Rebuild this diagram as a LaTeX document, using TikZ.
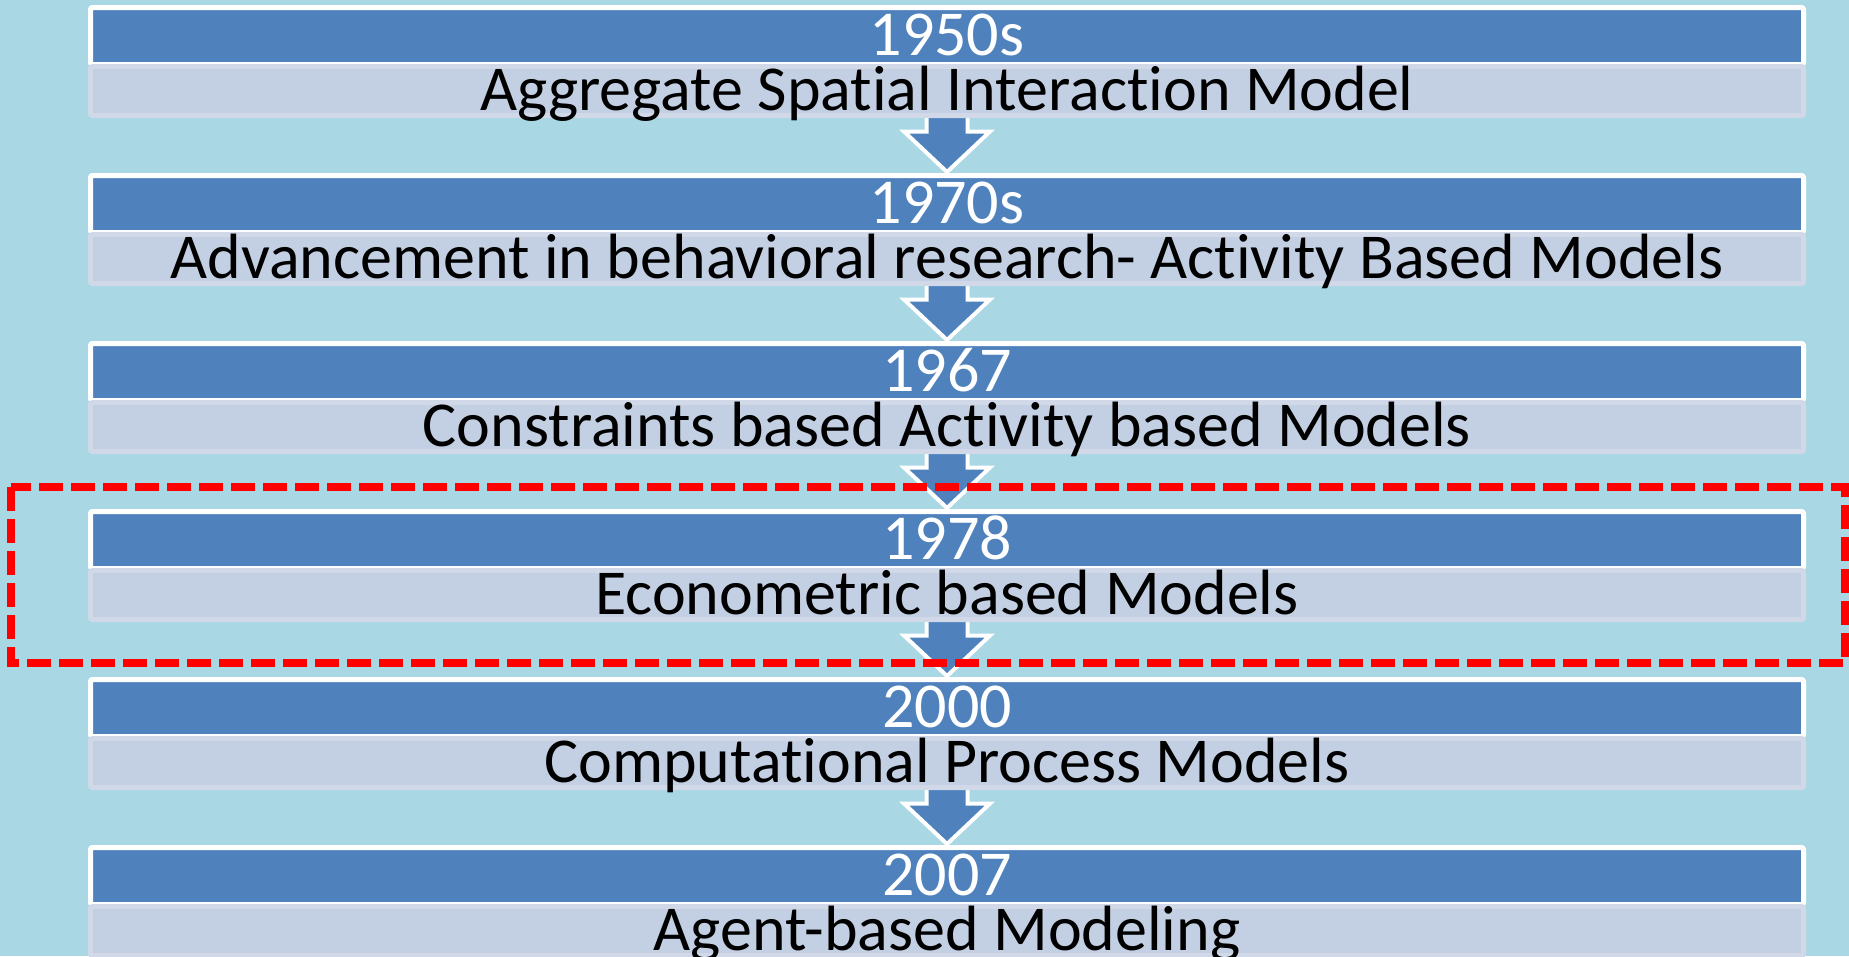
\documentclass[tikz,border=0pt]{standalone}
\usepackage{fontspec}
\setmainfont[Ligatures={NoCommon,NoContextual},RawFeature={-liga;-clig;-calt;-dlig}]{Carlito}
\usetikzlibrary{calc}
\pgfdeclarelayer{back}
\pgfsetlayers{back,main}
\definecolor{pagebg}{HTML}{A9D7E3}
\definecolor{hdr}{HTML}{4F81BD}
\definecolor{bodyfill}{HTML}{C3CFE2}
\definecolor{bodyedge}{HTML}{D1D9E9}
\tikzset{
  hdrbox/.style={draw=white, line width=5pt, fill=hdr, minimum width=1713pt,
    minimum height=57pt, inner sep=0pt, rounded corners=2pt},
  bodybox/.style={draw=bodyedge, line width=5pt, fill=bodyfill, minimum width=1713pt,
    minimum height=49pt, inner sep=0pt, rounded corners=2pt},
  yeartext/.style={text=white, font=\fontsize{64}{70}\selectfont, anchor=base, inner sep=0pt},
  desctext/.style={text=black, font=\fontsize{64}{70}\selectfont, anchor=base, inner sep=0pt},
  flow/.style={draw=white, line width=4pt, fill=hdr, line join=miter},
  focus/.style={draw=red, line width=8pt, dash pattern=on 24pt off 8pt}
}
\begin{document}
\begin{tikzpicture}[x=1pt, y=-1pt]
\useasboundingbox (0,0) rectangle (1849,956);
\begin{pgfonlayer}{back}
  \fill[pagebg] (0,0) rectangle (1849,956);
\end{pgfonlayer}

% timeline stages: a dark header with the period, a light band with the model family
\foreach \i/\yr/\txt in {
  1/1950s/Aggregate Spatial Interaction Model,
  2/1970s/Advancement in behavioral research- Activity Based Models,
  3/1967/Constraints based Activity based Models,
  4/1978/Econometric based Models,
  5/2000/Computational Process Models,
  6/2007/Agent-based Modeling}{
  \pgfmathsetmacro\T{5+168*(\i-1)}
  \node[hdrbox]  (h\i) at (947,\T+31) {};
  \node[bodybox] (b\i) at (947,\T+86) {};
  \node[yeartext] (y\i) at (947,\T+50) {\yr};
  \node[desctext] (d\i) at (947,\T+105) {\txt};
}

% block arrows between consecutive stages, kept behind the boxes
\begin{pgfonlayer}{back}
\foreach \i [evaluate=\i as \j using {int(\i+1)}] in {1,...,5}{
  \draw[flow] ($(b\i.south)+(-20.5,-6)$) -- ($(h\j.north)+(-20.5,-41.5)$)
    -- ($(h\j.north)+(-43,-41.5)$) -- ($(h\j.north)+(0,-1)$)
    -- ($(h\j.north)+(43,-41.5)$) -- ($(h\j.north)+(20.5,-41.5)$)
    -- ($(b\i.south)+(20.5,-6)$) -- cycle;
}
\end{pgfonlayer}

% highlight around the 1978 stage
\draw[focus] (11,487) rectangle (1845,663);
\end{tikzpicture}
\end{document}
